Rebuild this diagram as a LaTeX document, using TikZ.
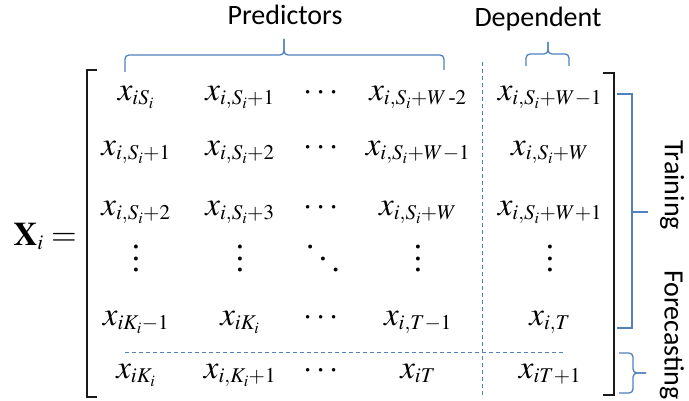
\documentclass[tikz,border=0pt]{standalone}
\usepackage{amsmath}
\usepackage{mathptmx}
\usepackage[no-math]{fontspec}
\setmainfont{Liberation Serif}
\newfontfamily\lblfont{Carlito}
\definecolor{BraceBlue}{HTML}{4F81BD}
\definecolor{BrkBlack}{HTML}{1A1A1A}
\usetikzlibrary{positioning}
\DeclareMathSizes{33}{33}{21}{16}
\newcommand{\mfont}{\fontsize{33}{40}\selectfont}
\newcommand{\dotsv}{\vbox{\baselineskip11.5pt\lineskiplimit0pt\hbox{.}\hbox{.}\hbox{.}}}
\newcommand{\dotsd}{\hbox{\raisebox{23pt}{.}\kern4.5pt\raisebox{11.5pt}{.}\kern4.5pt.}}
\tikzset{
  cell/.style={anchor=base,inner sep=0pt,font=\mfont},
  lbl/.style={inner sep=0pt,font=\lblfont\fontsize{28}{32}\selectfont},
  brk/.style={draw=BrkBlack,line width=1.5pt},
  brc/.style={draw=BraceBlue,line width=1.3pt,rounded corners=4pt},
  sep/.style={draw=BraceBlue,line width=1pt,dash pattern=on 4pt off 3pt},
}

\begin{document}
\begin{tikzpicture}[x=1pt,y=1pt]
\useasboundingbox (0,0) rectangle (689,400);

\node[cell,anchor=base east] (lhs) at (77,155) {$\mathbf{X}_i =$};

% matrix entries, row by row
\foreach \cx/\e [count=\c] in {136/{x_{iS_i}},240/{x_{i,S_i+1}},323/{\cdots},
    418/{x_{i,S_i+W\,\text{-}2}},550/{x_{i,S_i+W-1}}}
  \node[cell] (r1c\c) at (\cx,300) {$\e$};
\foreach \cx/\e [count=\c] in {136/{x_{i,S_i+1}},240/{x_{i,S_i+2}},323/{\cdots},
    418/{x_{i,S_i+W-1}},550/{x_{i,S_i+W}}}
  \node[cell] (r2c\c) at (\cx,245) {$\e$};
\foreach \cx/\e [count=\c] in {136/{x_{i,S_i+2}},240/{x_{i,S_i+3}},323/{\cdots},
    418/{x_{i,S_i+W}},550/{x_{i,S_i+W+1}}}
  \node[cell] (r3c\c) at (\cx,185) {$\e$};
\foreach \cx/\e [count=\c] in {136/\dotsv,240/\dotsv,323/\dotsd,418/\dotsv,550/\dotsv}
  \node[cell,anchor=center] (r4c\c) at (\cx,141) {\e};
\foreach \cx/\e [count=\c] in {136/{x_{iK_i-1}},240/{x_{iK_i}},323/{\cdots},
    418/{x_{i,T-1}},550/{x_{i,T}}}
  \node[cell] (r5c\c) at (\cx,75) {$\e$};
\foreach \cx/\e [count=\c] in {136/{x_{iK_i}},240/{x_{i,K_i+1}},323/{\cdots},
    418/{x_{iT}},550/{x_{iT+1}}}
  \node[cell] (r6c\c) at (\cx,22) {$\e$};

% square brackets
\draw[brk] (97,330) -- (87,330) -- (87,3) -- (97,3);
\draw[brk] (603,327) -- (614,327) -- (614,5) -- (603,5);

% separators
\draw[sep] (482,338) -- (482,3);
\draw[sep] (125,48) -- (565,48);

% labels
\node[lbl,anchor=base] (pred) at (285,375) {Predictors};
\node[lbl,anchor=base] (dep) at (538,373) {Dependent};
\node[lbl,rotate=-90] (train) at (672,215) {Training};
\node[lbl,rotate=-90] (fcst) at (672,65) {Forecasting};

% braces
\draw[brc] (125,328) -- (125,345) -- (284,345) -- (284,361);
\draw[brc] (444,330) -- (444,345) -- (284,345) -- (284,361);
\draw[brc] (526,334) -- (526,346) -- (548,346) -- (548,358);
\draw[brc] (569,334) -- (569,346) -- (548,346) -- (548,358);
\draw[brc,rounded corners=0pt] (617,306) -- (632,306) -- (632,72) -- (617,72);
\draw[brc] (632,188) -- (648,188);
\draw[brc] (619,47) -- (633,47) -- (633,27) -- (646,27);
\draw[brc] (619,7) -- (633,7) -- (633,27) -- (646,27);
\end{tikzpicture}
\end{document}
